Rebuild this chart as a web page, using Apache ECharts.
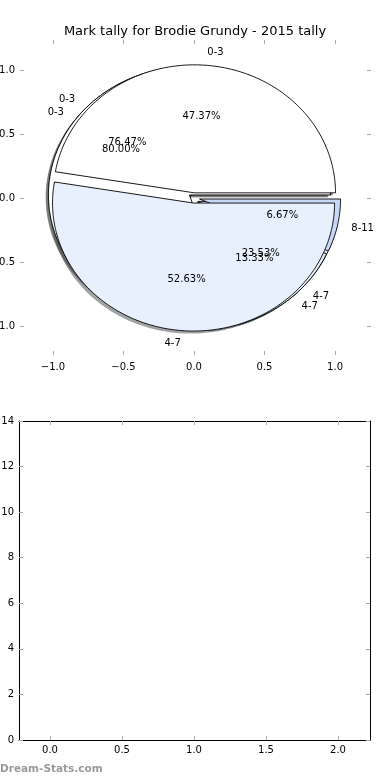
<!DOCTYPE html>
<html>
<head>
<meta charset="utf-8">
<script src="https://cdn.jsdelivr.net/npm/echarts@6/dist/echarts.min.js"></script>
<style>
html,body{margin:0;padding:0;background:#fff;}
#main{width:390px;height:780px;}
</style>
</head>
<body>
<div id="main"></div>
<script>
// ---- data ----
const titleText = 'Mark tally for Brodie Grundy - 2015 tally';
const sliceLabels = ['0-3', '4-7', '8-11'];
// three overlaid pies (tallies per mark band), drawn in this order
const pieB = [13, 4];      // 76.47% / 23.53%
const pieC = [12, 2, 1];   // 80.00% / 13.33% / 6.67%
const pieA = [9, 10];      // 47.37% / 52.63%
const pies = [pieB, pieC, pieA];
const pieTicks = [-1.0, -0.5, 0.0, 0.5, 1.0];
const barXTicks = [0.0, 0.5, 1.0, 1.5, 2.0];
const barYTicks = [0, 2, 4, 6, 8, 10, 12, 14];
const footerText = 'Dream-Stats.com';

// ---- styles ----
const sliceColors = ['#ffffff', '#e9f0fd', '#c6d8f6'];
const EXPLODE = 0.04;
const FONT = "'DejaVu Sans', sans-serif";

function wedgeInfo(p, i) {
  const vals = pies[p];
  const total = vals.reduce((a, b) => a + b, 0);
  let cum = 0;
  for (let k = 0; k < i; k++) cum += vals[k];
  const t1 = cum / total * 360;
  const t2 = (cum + vals[i]) / total * 360;
  const mid = (t1 + t2) / 2 * Math.PI / 180;
  return {t1, t2, mid, frac: vals[i] / total,
          ex: EXPLODE * Math.cos(mid), ey: EXPLODE * Math.sin(mid)};
}
function wedgePoints(api, w, dx, dy) {
  const pts = [api.coord([w.ex + dx, w.ey + dy])];
  const n = Math.max(2, Math.ceil((w.t2 - w.t1) / 1));
  for (let k = 0; k <= n; k++) {
    const a = (w.t1 + (w.t2 - w.t1) * k / n) * Math.PI / 180;
    pts.push(api.coord([w.ex + dx + Math.cos(a), w.ey + dy + Math.sin(a)]));
  }
  return pts;
}
const items = [];
pies.forEach((vals, p) => vals.forEach((v, i) => items.push([p, i])));

function shadowColor(c) {
  const r = parseInt(c.slice(1, 3), 16), g = parseInt(c.slice(3, 5), 16), b = parseInt(c.slice(5, 7), 16);
  return `rgba(${Math.round(r*0.3)},${Math.round(g*0.3)},${Math.round(b*0.3)},0.5)`;
}

const tickStyle = {show: true, inside: true, length: 4, lineStyle: {color: '#aaa'}};
const frameLine = {show: true, onZero: false, lineStyle: {color: '#000', width: 1}};
const noLine = {show: false, onZero: false};

const option = {
  animation: false,
  backgroundColor: '#fff',
  title: {
    text: titleText, left: 'center', top: 20,
    textStyle: {fontFamily: FONT, fontSize: 13, fontWeight: 'normal', color: '#000'}
  },
  graphic: [{
    type: 'text', left: 0, top: 764,
    style: {text: footerText, fill: '#9a9a9a', font: "bold 10.5px 'DejaVu Sans', sans-serif"}
  }],
  grid: [
    {left: 20, right: 19, top: 40, height: 315, outerBoundsMode: 'none', containLabel: false},
    {left: 19, right: 20, top: 421, height: 319, outerBoundsMode: 'none', containLabel: false}
  ],
  xAxis: [
    {gridIndex: 0, type: 'value', min: -1.234, max: 1.255, position: 'bottom',
     axisLine: noLine, splitLine: {show: false},
     axisTick: Object.assign({customValues: pieTicks}, tickStyle),
     axisLabel: {customValues: pieTicks, margin: 7, color: '#000', fontFamily: FONT, fontSize: 10,
       formatter: v => v.toFixed(1).replace('-', '\u2212')}},
    {gridIndex: 0, type: 'value', min: -1.234, max: 1.255, position: 'top',
     axisLine: noLine, splitLine: {show: false}, axisLabel: {show: false},
     axisTick: Object.assign({customValues: pieTicks}, tickStyle)},
    {gridIndex: 1, type: 'value', min: -0.215, max: 2.222, position: 'bottom',
     axisLine: frameLine, splitLine: {show: false},
     axisTick: Object.assign({customValues: barXTicks}, tickStyle),
     axisLabel: {customValues: barXTicks, margin: 5, color: '#000', fontFamily: FONT, fontSize: 10,
       formatter: v => v.toFixed(1)}},
    {gridIndex: 1, type: 'value', min: -0.215, max: 2.222, position: 'top',
     axisLine: frameLine, splitLine: {show: false}, axisLabel: {show: false},
     axisTick: Object.assign({customValues: barXTicks}, tickStyle)}
  ],
  yAxis: [
    {gridIndex: 0, type: 'value', min: -1.227, max: 1.234, position: 'left',
     axisLine: noLine, splitLine: {show: false},
     axisTick: Object.assign({customValues: pieTicks}, tickStyle),
     axisLabel: {customValues: pieTicks, margin: 5, color: '#000', fontFamily: FONT, fontSize: 10,
       formatter: v => v.toFixed(1).replace('-', '\u2212')}},
    {gridIndex: 0, type: 'value', min: -1.227, max: 1.234, position: 'right',
     axisLine: noLine, splitLine: {show: false}, axisLabel: {show: false},
     axisTick: Object.assign({customValues: pieTicks}, tickStyle)},
    {gridIndex: 1, type: 'value', min: 0, max: 14, position: 'left',
     axisLine: frameLine, splitLine: {show: false},
     axisTick: Object.assign({customValues: barYTicks}, tickStyle),
     axisLabel: {customValues: barYTicks, margin: 5, color: '#000', fontFamily: FONT, fontSize: 10}},
    {gridIndex: 1, type: 'value', min: 0, max: 14, position: 'right',
     axisLine: frameLine, splitLine: {show: false}, axisLabel: {show: false},
     axisTick: Object.assign({customValues: barYTicks}, tickStyle)}
  ],
  series: [
    { // shadows
      type: 'custom', xAxisIndex: 0, yAxisIndex: 0, clip: false, z: 1, silent: true,
      data: items, encode: {x: -1, y: -1},
      renderItem: (params, api) => {
        const p = api.value(0), i = api.value(1);
        const w = wedgeInfo(p, i);
        return {type: 'polygon', shape: {points: wedgePoints(api, w, -0.02, -0.02)},
                style: {fill: shadowColor(sliceColors[i]), stroke: null}};
      }
    },
    { // wedges
      type: 'custom', xAxisIndex: 0, yAxisIndex: 0, clip: false, z: 2, silent: true,
      data: items, encode: {x: -1, y: -1},
      renderItem: (params, api) => {
        const p = api.value(0), i = api.value(1);
        const w = wedgeInfo(p, i);
        return {type: 'polygon', shape: {points: wedgePoints(api, w, 0, 0)},
                style: {fill: sliceColors[i], stroke: '#000', lineWidth: 0.9, lineJoin: 'miter'}};
      }
    },
    { // texts
      type: 'custom', xAxisIndex: 0, yAxisIndex: 0, clip: false, z: 3, silent: true,
      data: items, encode: {x: -1, y: -1},
      renderItem: (params, api) => {
        const p = api.value(0), i = api.value(1);
        const w = wedgeInfo(p, i);
        const c = Math.cos(w.mid), s = Math.sin(w.mid);
        const lp = api.coord([w.ex + 1.1 * c, w.ey + 1.1 * s]);
        const pp = api.coord([w.ex + 0.6 * c, w.ey + 0.6 * s]);
        return {type: 'group', children: [
          {type: 'text', x: lp[0], y: lp[1],
           style: {text: sliceLabels[i], fill: '#000', font: "10px 'DejaVu Sans', sans-serif",
                   align: c > 0 ? 'left' : 'right', verticalAlign: 'middle'}},
          {type: 'text', x: pp[0], y: pp[1],
           style: {text: (w.frac * 100).toFixed(2) + '%', fill: '#000', font: "10px 'DejaVu Sans', sans-serif",
                   align: 'center', verticalAlign: 'middle'}}
        ]};
      }
    }
  ]
};
const chart = echarts.init(document.getElementById('main'), null, {renderer: 'canvas'});
chart.setOption(option);
</script>
</body>
</html>
